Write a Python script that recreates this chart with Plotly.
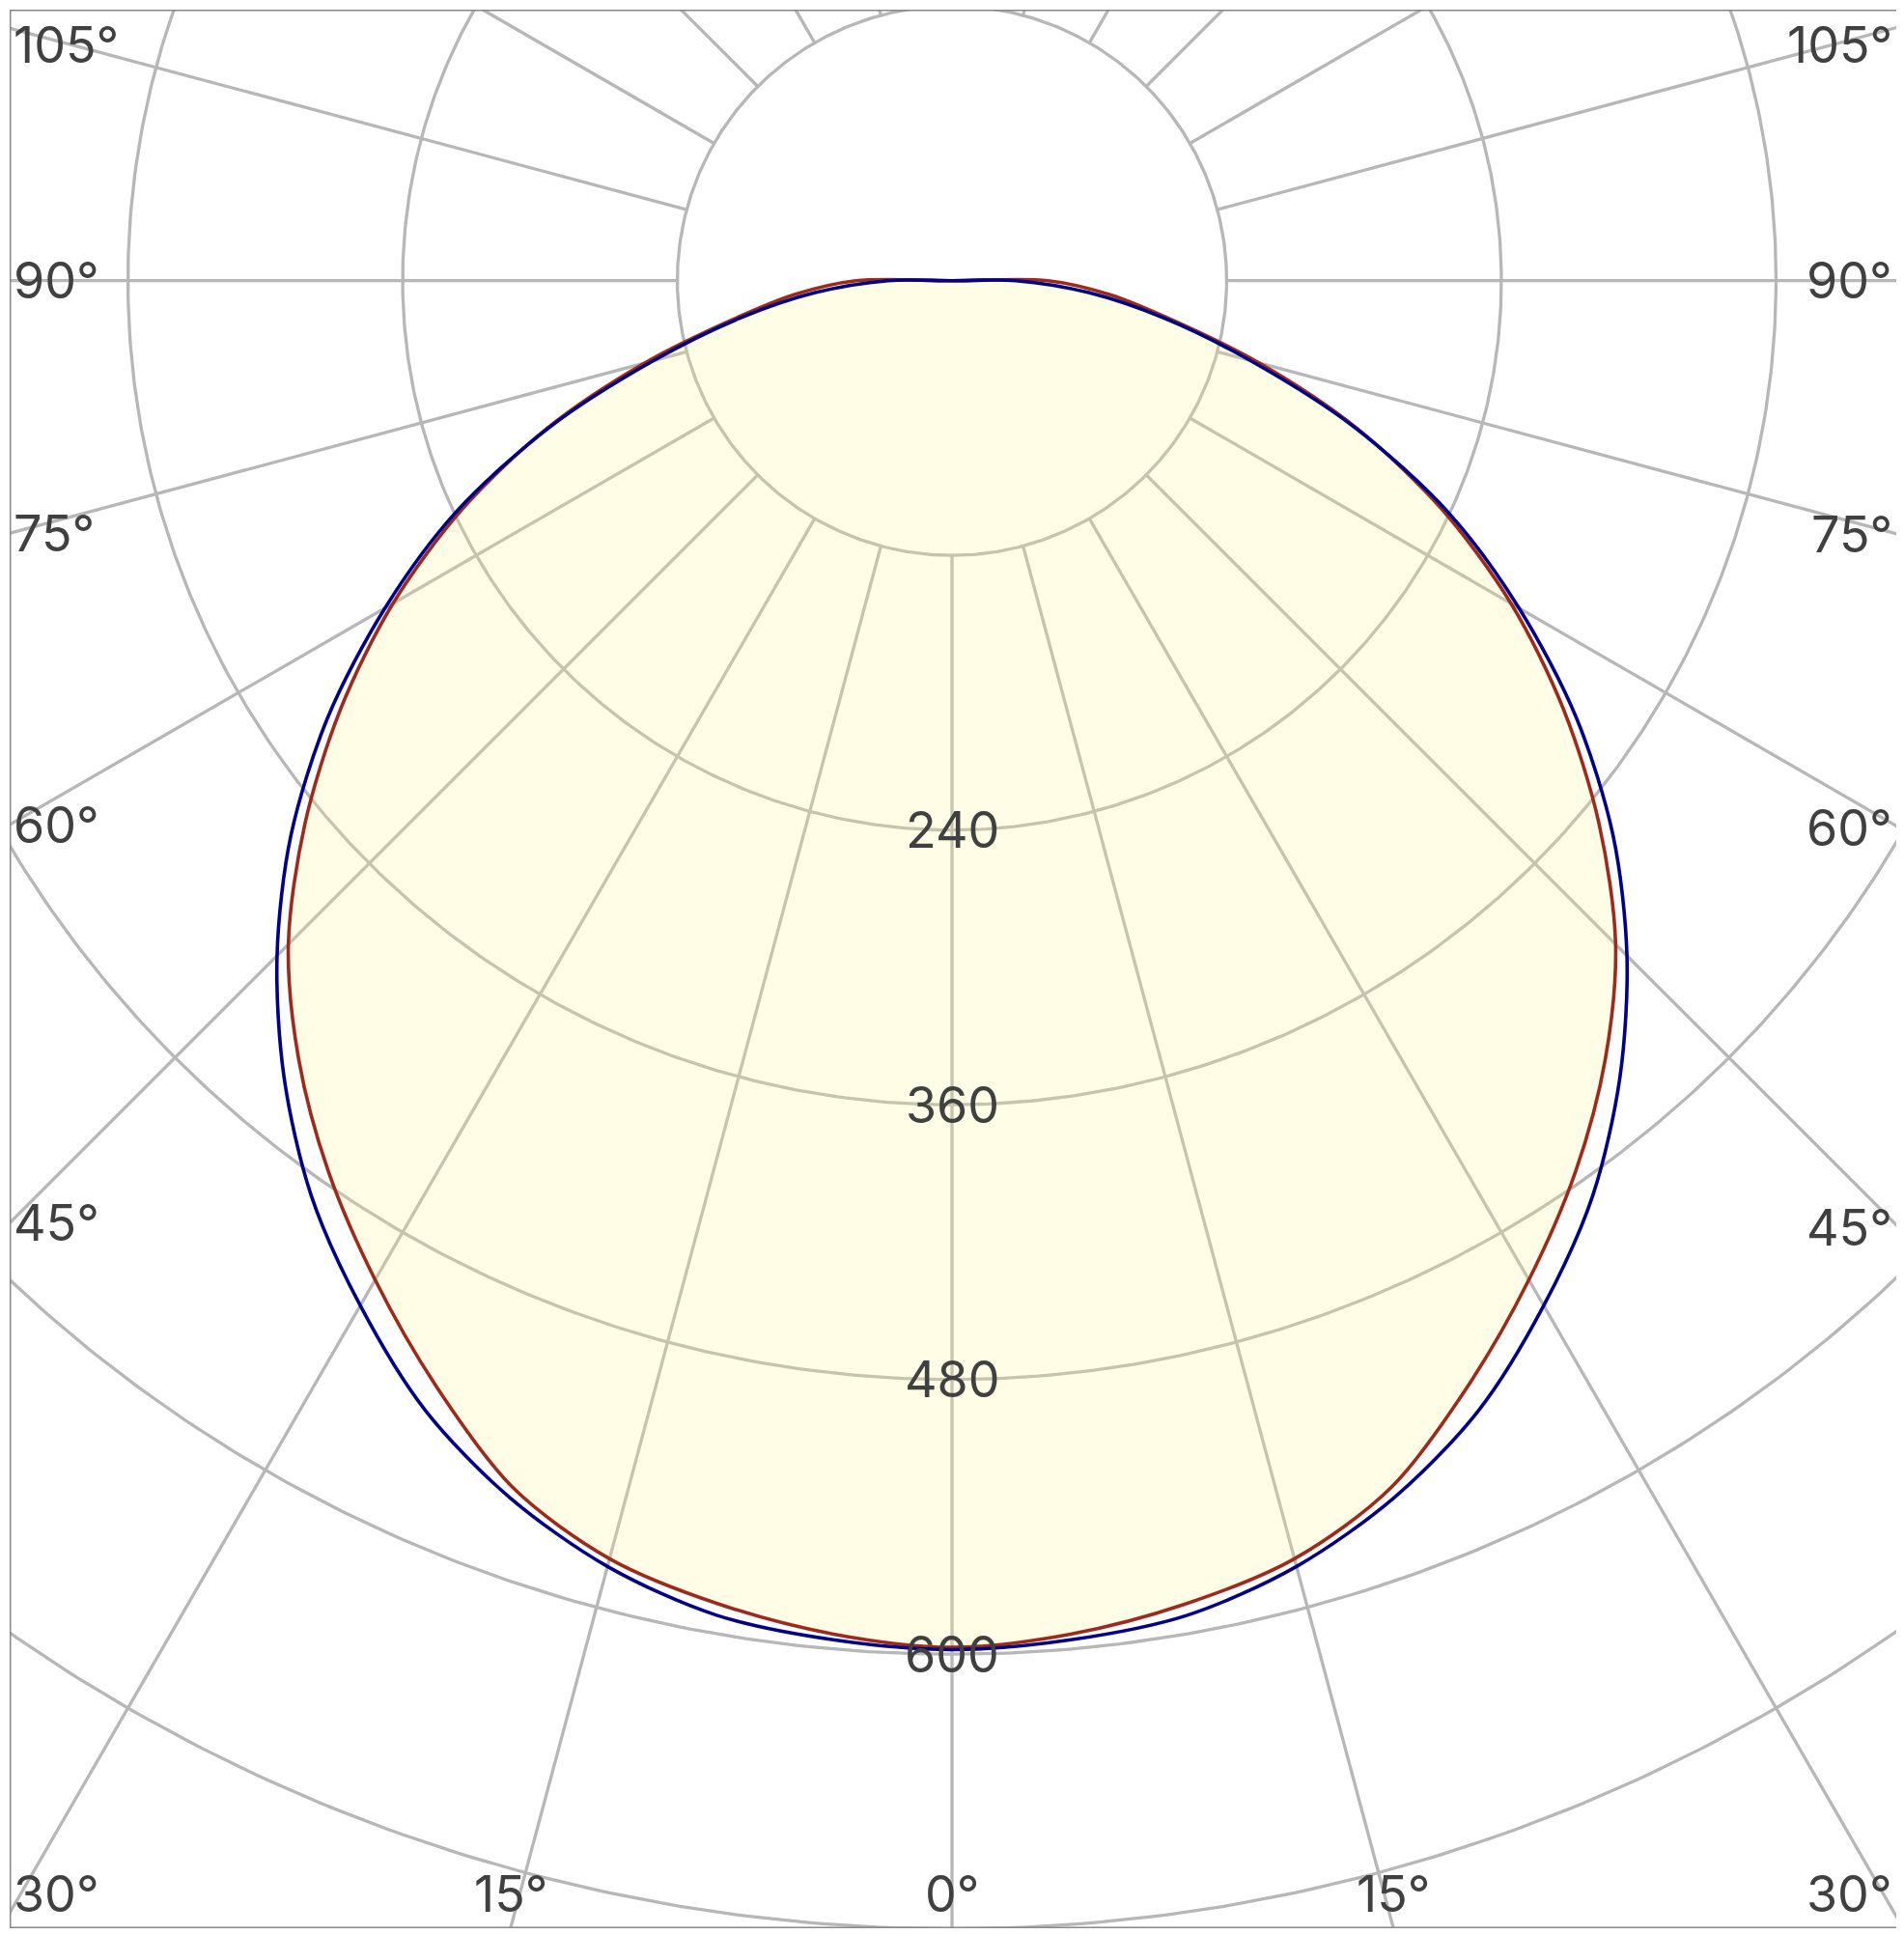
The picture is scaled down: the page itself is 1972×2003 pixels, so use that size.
import numpy as np
import plotly.graph_objects as go

# ---- data (luminous intensity, cd/klm) ----
gamma = list(range(0, 95, 5))  # 0..90 deg (0 beyond 90 deg)
c0_c180 = [597, 593.5, 587, 578, 561, 533, 504, 475, 444, 410, 369, 326, 282,
           236, 188, 139, 97, 69, 42]
c90_c270 = [598, 596, 592, 581.5, 565.5, 544.5, 517, 488, 454, 417, 377, 333, 286,
            239, 187, 135, 94, 60, 28]

ring_values = [120, 240, 360, 480, 600, 720, 840, 960]
ring_labels = [240, 360, 480, 600]
spoke_angles = list(range(0, 360, 15))
edge_label_angles = list(range(0, 181, 15))

# ---- geometry of the view (window pixels, page is offset by 8px body margin) ----
OFF = 8
W, H = 1964, 1995
ML, MR, MT, MB = 2, 5, 2, 6
CX, CY = 986 - OFF, 290.7 - OFF             # polar centre in figure px
k = 2.3708                                   # px per unit
XMIN, XMAX = (ML - CX) / k, (W - MR - CX) / k
YMIN, YMAX = -(H - MB - CY) / k, (CY - MT) / k


def polar_xy(values, side):
    g = np.radians(np.array(gamma, dtype=float))
    v = np.array(values, dtype=float)
    return side * v * np.sin(g), -v * np.cos(g)


def curve(values):
    xl, yl = polar_xy(values, -1)
    xr, yr = polar_xy(values, 1)
    xs = np.concatenate([[0.0], xl[::-1], xr[1:], [0.0]])
    ys = np.concatenate([[0.0], yl[::-1], yr[1:], [0.0]])
    return xs, ys


fig = go.Figure()

# grid circles
gx, gy = [], []
t = np.linspace(0, 2 * np.pi, 721)
for r in ring_values:
    gx += list(r * np.sin(t)) + [None]
    gy += list(-r * np.cos(t)) + [None]
# spokes
for a in spoke_angles:
    ar = np.radians(a)
    gx += [120 * np.sin(ar), 1200 * np.sin(ar), None]
    gy += [-120 * np.cos(ar), -1200 * np.cos(ar), None]
fig.add_trace(go.Scatter(x=gx, y=gy, mode="lines",
                         line=dict(color="#b7b7b7", width=3.3),
                         hoverinfo="skip", showlegend=False))

# fill of C0-C180 curve
rx, ry = curve(c0_c180)
fig.add_trace(go.Scatter(x=rx, y=ry, mode="lines", fill="toself",
                         fillcolor="rgba(255,245,140,0.22)",
                         line=dict(width=0, shape="spline", smoothing=0.9),
                         hoverinfo="skip", showlegend=False))
# curves
fig.add_trace(go.Scatter(x=rx, y=ry, mode="lines", name="C0-C180",
                         line=dict(color="#9e2a1b", width=3.6, shape="spline", smoothing=0.9),
                         showlegend=False))
bx, by = curve(c90_c270)
fig.add_trace(go.Scatter(x=bx, y=by, mode="lines", name="C90-C270",
                         line=dict(color="#00008b", width=3.6, shape="spline", smoothing=0.9),
                         showlegend=False))

font = dict(family="Inter, Liberation Sans, Arial, sans-serif", size=52, color="#404040")
ann = []
left_x = (13 - OFF - CX) / k
right_x = (1961 - OFF - CX) / k
top_c = (CY - (46 - OFF)) / k
bot_c = -((1961 - OFF) - CY) / k

for a in edge_label_angles:
    ar = np.radians(a)
    for side in ([1] if a == 0 else [-1, 1]):
        dx, dy = side * np.sin(ar), -np.cos(ar)
        cands = []
        if dx < -1e-9:
            cands.append((XMIN / dx, "side"))
        if dx > 1e-9:
            cands.append((XMAX / dx, "side"))
        if dy < -1e-9:
            cands.append((YMIN / dy, "bottom"))
        if dy > 1e-9:
            cands.append((YMAX / dy, "top"))
        tt, edge = min(cands)
        if edge == "top":
            continue
        hx, hy = tt * dx, tt * dy
        txt = f"{a}°"
        if edge == "side":
            y = min(max(hy, bot_c), top_c)
            if side < 0:
                ann.append(dict(x=left_x, y=y, text=txt, xanchor="left", yanchor="middle"))
            else:
                ann.append(dict(x=right_x, y=y, text=txt, xanchor="right", yanchor="middle"))
        else:
            ann.append(dict(x=hx, y=bot_c, text=txt, xanchor="center", yanchor="middle"))

for r in ring_labels:
    ann.append(dict(x=0, y=-r, text=str(r), xanchor="center", yanchor="middle"))

for a_ in ann:
    a_.update(xref="x", yref="y", showarrow=False, font=font, borderpad=0)

fig.update_layout(
    width=W, height=H,
    margin=dict(l=ML, r=MR, t=MT, b=MB, pad=0),
    paper_bgcolor="white", plot_bgcolor="white",
    xaxis=dict(range=[XMIN, XMAX], visible=False, fixedrange=True),
    yaxis=dict(range=[YMIN, YMAX], visible=False, fixedrange=True),
    annotations=ann,
    shapes=[dict(type="rect", xref="x", yref="y", x0=XMIN, y0=YMIN, x1=XMAX, y1=YMAX,
                 line=dict(color="#888888", width=3), layer="above")],
    showlegend=False,
)

fig.write_html("out.html")
